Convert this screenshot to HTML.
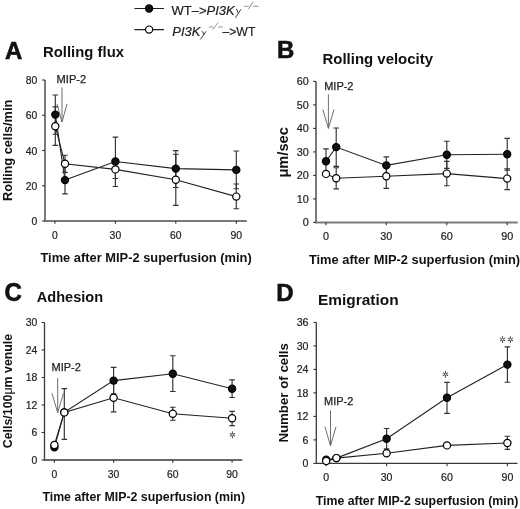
<!DOCTYPE html><html><head><meta charset="utf-8"><style>html,body{margin:0;padding:0;background:#fff;overflow:hidden;}svg{display:block;filter:grayscale(1);}text{font-family:"Liberation Sans", sans-serif;}</style></head><body>
<svg width="520" height="509" viewBox="0 0 520 509">
<rect width="520" height="509" fill="#fff"/>
<g stroke="#222" stroke-width="1.1"><path d="M134.4,8.5 H164 M134.4,29.6 H164"/></g>
<circle cx="149.1" cy="8.5" r="3.6" fill="#111" stroke="#000" stroke-width="1.2"/>
<circle cx="149.1" cy="29.6" r="3.6" fill="#fff" stroke="#000" stroke-width="1.2"/>
<text x="171.5" y="14.9" font-size="13" fill="#222" stroke="#222" stroke-width="0.2">WT–&gt;<tspan font-style="italic">PI3K</tspan></text>
<path d="M235.9,9.0 Q237.2,8.8 238.1,12.9 M241.0,9.3 L235.4,17.8" stroke="#333" stroke-width="0.95" fill="none"/>
<path d="M243.8,6.3 H248.6 M248.3,9.2 L253.3,1.6 M253.2,6.3 H258.4" stroke="#888" stroke-width="0.9" fill="none"/>
<text x="172.3" y="36.3" font-size="13" fill="#222" stroke="#222" stroke-width="0.2"><tspan font-style="italic">PI3K</tspan></text>
<path d="M201.7,31.2 Q203.0,31.0 203.9,35.0 M206.2,31.3 L200.3,39.4" stroke="#333" stroke-width="0.95" fill="none"/>
<path d="M208.8,27.0 H213.2 M212.6,29.6 L218.2,22.6 M218.2,27.0 H222.7" stroke="#888" stroke-width="0.9" fill="none"/>
<text x="222.4" y="36.3" font-size="13" fill="#222" stroke="#222" stroke-width="0.2" textLength="33" lengthAdjust="spacingAndGlyphs">–&gt;WT</text>
<text x="5.00" y="58.70" font-size="24" font-weight="bold" text-anchor="start" fill="#111" stroke="#111" stroke-width="0.6">A</text>
<text x="43.00" y="56.50" font-size="15" font-weight="bold" text-anchor="start" fill="#111" textLength="81" lengthAdjust="spacingAndGlyphs">Rolling flux</text>
<text x="277.00" y="58.20" font-size="24" font-weight="bold" text-anchor="start" fill="#111" stroke="#111" stroke-width="0.6">B</text>
<text x="322.50" y="64.00" font-size="15" font-weight="bold" text-anchor="start" fill="#111" textLength="110.5" lengthAdjust="spacingAndGlyphs">Rolling velocity</text>
<text x="4.40" y="301.00" font-size="24" font-weight="bold" text-anchor="start" fill="#111" stroke="#111" stroke-width="0.6" transform="translate(0,301) scale(1,1.05) translate(0,-301)">C</text>
<text x="36.80" y="301.90" font-size="15" font-weight="bold" text-anchor="start" fill="#111" textLength="66.3" lengthAdjust="spacingAndGlyphs">Adhesion</text>
<text x="276.20" y="301.30" font-size="24" font-weight="bold" text-anchor="start" fill="#111" stroke="#111" stroke-width="0.6">D</text>
<text x="318.00" y="304.60" font-size="15" font-weight="bold" text-anchor="start" fill="#111" textLength="80.6" lengthAdjust="spacingAndGlyphs">Emigration</text>
<text x="40.50" y="262.40" font-size="12.8" font-weight="bold" text-anchor="start" fill="#111" textLength="211.20" lengthAdjust="spacingAndGlyphs">Time after MIP-2 superfusion (min)</text>
<text x="308.90" y="264.10" font-size="12.8" font-weight="bold" text-anchor="start" fill="#111" textLength="211.20" lengthAdjust="spacingAndGlyphs">Time after MIP-2 superfusion (min)</text>
<text x="42.40" y="501.10" font-size="12.8" font-weight="bold" text-anchor="start" fill="#111" textLength="202.60" lengthAdjust="spacingAndGlyphs">Time after MIP-2 superfusion (min)</text>
<text x="315.70" y="504.80" font-size="12.8" font-weight="bold" text-anchor="start" fill="#111" textLength="202.70" lengthAdjust="spacingAndGlyphs">Time after MIP-2 superfusion (min)</text>
<text transform="translate(12.40,201.00) rotate(-90)" x="0" y="0" font-size="12.8" font-weight="bold" fill="#111" textLength="101.20" lengthAdjust="spacingAndGlyphs">Rolling cells/min</text>
<text transform="translate(288.30,177.60) rotate(-90)" x="0" y="0" font-size="14.3" font-weight="bold" fill="#111" textLength="50.40" lengthAdjust="spacingAndGlyphs">μm/sec</text>
<text transform="translate(12.40,448.20) rotate(-90)" x="0" y="0" font-size="12.8" font-weight="bold" fill="#111" textLength="114.40" lengthAdjust="spacingAndGlyphs">Cells/100<tspan font-weight="normal">μ</tspan>m venule</text>
<text transform="translate(288.30,442.60) rotate(-90)" x="0" y="0" font-size="12.8" font-weight="bold" fill="#111" textLength="99.50" lengthAdjust="spacingAndGlyphs">Number of cells</text>
<path d="M45.00,80.00 V221.00 H246.80" stroke="#7a7a7a" stroke-width="2.0" fill="none"/>
<g stroke="#333" stroke-width="1.1" fill="none">
<path d="M42.10,221.00 H45.00"/>
<path d="M42.10,185.75 H45.00"/>
<path d="M42.10,150.50 H45.00"/>
<path d="M42.10,115.25 H45.00"/>
<path d="M42.10,80.00 H45.00"/>
<path d="M54.90,221.00 V223.80"/>
<path d="M115.40,221.00 V223.80"/>
<path d="M175.80,221.00 V223.80"/>
<path d="M236.30,221.00 V223.80"/>
</g>
<text transform="translate(37.30,225.00) scale(1.0,1)" font-size="10.4" text-anchor="end" fill="#222" stroke="#222" stroke-width="0.2">0</text>
<text transform="translate(37.30,189.75) scale(1.0,1)" font-size="10.4" text-anchor="end" fill="#222" stroke="#222" stroke-width="0.2">20</text>
<text transform="translate(37.30,154.50) scale(1.0,1)" font-size="10.4" text-anchor="end" fill="#222" stroke="#222" stroke-width="0.2">40</text>
<text transform="translate(37.30,119.25) scale(1.0,1)" font-size="10.4" text-anchor="end" fill="#222" stroke="#222" stroke-width="0.2">60</text>
<text transform="translate(37.30,84.00) scale(1.0,1)" font-size="10.4" text-anchor="end" fill="#222" stroke="#222" stroke-width="0.2">80</text>
<text transform="translate(54.90,239.10) scale(1.0,1)" font-size="10.4" text-anchor="middle" fill="#222" stroke="#222" stroke-width="0.2">0</text>
<text transform="translate(115.40,239.10) scale(1.0,1)" font-size="10.4" text-anchor="middle" fill="#222" stroke="#222" stroke-width="0.2">30</text>
<text transform="translate(175.80,239.10) scale(1.0,1)" font-size="10.4" text-anchor="middle" fill="#222" stroke="#222" stroke-width="0.2">60</text>
<text transform="translate(236.30,239.10) scale(1.0,1)" font-size="10.4" text-anchor="middle" fill="#222" stroke="#222" stroke-width="0.2">90</text>
<g stroke="#6e6e6e" stroke-width="1" fill="none"><path d="M62.00,87.50 V122.00 M57.00,103.80 L62.00,122.00 L67.00,103.80"/></g>
<text x="56.60" y="82.50" font-size="11" font-weight="normal" text-anchor="start" fill="#222" textLength="29.60" lengthAdjust="spacingAndGlyphs" stroke="#222" stroke-width="0.25">MIP-2</text>
<polyline points="55.30,114.60 65.00,180.10 115.40,161.50 175.80,168.60 236.30,169.90" fill="none" stroke="#222" stroke-width="1.1"/>
<polyline points="55.30,126.20 65.00,163.80 115.40,169.40 175.80,179.80 236.30,196.60" fill="none" stroke="#222" stroke-width="1.1"/>
<g stroke="#333" stroke-width="1.15" fill="none">
<path d="M55.30,95.00 V114.60 M52.50,95.00 H58.10 M55.30,134.20 V114.60 M52.50,134.20 H58.10 "/>
<path d="M65.00,166.40 V180.10 M62.20,166.40 H67.80 M65.00,193.90 V180.10 M62.20,193.90 H67.80 "/>
<path d="M115.40,137.10 V161.50 M112.60,137.10 H118.20 M115.40,186.50 V161.50 M112.60,186.50 H118.20 "/>
<path d="M175.80,150.60 V168.60 M173.00,150.60 H178.60 M175.80,187.50 V168.60 M173.00,187.50 H178.60 "/>
<path d="M236.30,151.00 V169.90 M233.50,151.00 H239.10 M236.30,188.70 V169.90 M233.50,188.70 H239.10 "/>
</g>
<g stroke="#333" stroke-width="1.15" fill="none">
<path d="M55.30,106.80 V126.20 M52.50,106.80 H58.10 M55.30,145.40 V126.20 M52.50,145.40 H58.10 "/>
<path d="M65.00,155.20 V163.80 M62.20,155.20 H67.80 M65.00,172.40 V163.80 M62.20,172.40 H67.80 "/>
<path d="M115.40,160.50 V169.40 M112.60,160.50 H118.20 M115.40,178.50 V169.40 M112.60,178.50 H118.20 "/>
<path d="M175.80,154.20 V179.80 M173.00,154.20 H178.60 M175.80,205.40 V179.80 M173.00,205.40 H178.60 "/>
<path d="M236.30,184.00 V196.60 M233.50,184.00 H239.10 M236.30,208.70 V196.60 M233.50,208.70 H239.10 "/>
</g>
<circle cx="55.30" cy="114.60" r="3.6" fill="#111" stroke="#000" stroke-width="1.2"/>
<circle cx="65.00" cy="180.10" r="3.6" fill="#111" stroke="#000" stroke-width="1.2"/>
<circle cx="115.40" cy="161.50" r="3.6" fill="#111" stroke="#000" stroke-width="1.2"/>
<circle cx="175.80" cy="168.60" r="3.6" fill="#111" stroke="#000" stroke-width="1.2"/>
<circle cx="236.30" cy="169.90" r="3.6" fill="#111" stroke="#000" stroke-width="1.2"/>
<circle cx="55.30" cy="126.20" r="3.6" fill="#fff" stroke="#000" stroke-width="1.2"/>
<circle cx="65.00" cy="163.80" r="3.6" fill="#fff" stroke="#000" stroke-width="1.2"/>
<circle cx="115.40" cy="169.40" r="3.6" fill="#fff" stroke="#000" stroke-width="1.2"/>
<circle cx="175.80" cy="179.80" r="3.6" fill="#fff" stroke="#000" stroke-width="1.2"/>
<circle cx="236.30" cy="196.60" r="3.6" fill="#fff" stroke="#000" stroke-width="1.2"/>
<path d="M316.00,81.40 V222.40 H517.70" stroke="#7a7a7a" stroke-width="2.0" fill="none"/>
<g stroke="#333" stroke-width="1.1" fill="none">
<path d="M313.10,222.40 H316.00"/>
<path d="M313.10,198.90 H316.00"/>
<path d="M313.10,175.40 H316.00"/>
<path d="M313.10,151.90 H316.00"/>
<path d="M313.10,128.40 H316.00"/>
<path d="M313.10,104.90 H316.00"/>
<path d="M313.10,81.40 H316.00"/>
<path d="M325.90,222.40 V225.20"/>
<path d="M386.30,222.40 V225.20"/>
<path d="M446.80,222.40 V225.20"/>
<path d="M507.20,222.40 V225.20"/>
</g>
<text transform="translate(308.70,226.40) scale(1.04,1)" font-size="10.4" text-anchor="end" fill="#222" stroke="#222" stroke-width="0.2">0</text>
<text transform="translate(308.70,202.90) scale(1.04,1)" font-size="10.4" text-anchor="end" fill="#222" stroke="#222" stroke-width="0.2">10</text>
<text transform="translate(308.70,179.40) scale(1.04,1)" font-size="10.4" text-anchor="end" fill="#222" stroke="#222" stroke-width="0.2">20</text>
<text transform="translate(308.70,155.90) scale(1.04,1)" font-size="10.4" text-anchor="end" fill="#222" stroke="#222" stroke-width="0.2">30</text>
<text transform="translate(308.70,132.40) scale(1.04,1)" font-size="10.4" text-anchor="end" fill="#222" stroke="#222" stroke-width="0.2">40</text>
<text transform="translate(308.70,108.90) scale(1.04,1)" font-size="10.4" text-anchor="end" fill="#222" stroke="#222" stroke-width="0.2">50</text>
<text transform="translate(308.70,85.40) scale(1.04,1)" font-size="10.4" text-anchor="end" fill="#222" stroke="#222" stroke-width="0.2">60</text>
<text transform="translate(325.90,239.70) scale(1.04,1)" font-size="10.4" text-anchor="middle" fill="#222" stroke="#222" stroke-width="0.2">0</text>
<text transform="translate(386.30,239.70) scale(1.04,1)" font-size="10.4" text-anchor="middle" fill="#222" stroke="#222" stroke-width="0.2">30</text>
<text transform="translate(446.80,239.70) scale(1.04,1)" font-size="10.4" text-anchor="middle" fill="#222" stroke="#222" stroke-width="0.2">60</text>
<text transform="translate(507.20,239.70) scale(1.04,1)" font-size="10.4" text-anchor="middle" fill="#222" stroke="#222" stroke-width="0.2">90</text>
<g stroke="#6e6e6e" stroke-width="1" fill="none"><path d="M328.40,94.20 V128.40 M322.80,109.50 L328.40,128.40 L334.00,109.50"/></g>
<text x="324.20" y="90.30" font-size="11" font-weight="normal" text-anchor="start" fill="#222" textLength="29.30" lengthAdjust="spacingAndGlyphs" stroke="#222" stroke-width="0.25">MIP-2</text>
<polyline points="326.00,161.30 336.20,147.10 386.30,165.40 446.80,154.80 507.20,154.20" fill="none" stroke="#222" stroke-width="1.1"/>
<polyline points="326.00,173.90 336.20,178.30 386.30,176.30 446.80,173.60 507.20,178.60" fill="none" stroke="#222" stroke-width="1.1"/>
<g stroke="#333" stroke-width="1.15" fill="none">
<path d="M326.00,148.90 V161.30 M323.20,148.90 H328.80 M326.00,173.70 V161.30 M323.20,173.70 H328.80 "/>
<path d="M336.20,128.00 V147.10 M333.40,128.00 H339.00 M336.20,166.40 V147.10 M333.40,166.40 H339.00 "/>
<path d="M386.30,156.90 V165.40 M383.50,156.90 H389.10 M386.30,173.90 V165.40 M383.50,173.90 H389.10 "/>
<path d="M446.80,141.20 V154.80 M444.00,141.20 H449.60 M446.80,168.40 V154.80 M444.00,168.40 H449.60 "/>
<path d="M507.20,138.30 V154.20 M504.40,138.30 H510.00 M507.20,170.10 V154.20 M504.40,170.10 H510.00 "/>
</g>
<g stroke="#333" stroke-width="1.15" fill="none">
<path d="M336.20,167.70 V178.30 M333.40,167.70 H339.00 M336.20,188.90 V178.30 M333.40,188.90 H339.00 "/>
<path d="M386.30,164.20 V176.30 M383.50,164.20 H389.10 M386.30,188.40 V176.30 M383.50,188.40 H389.10 "/>
<path d="M446.80,161.40 V173.60 M444.00,161.40 H449.60 M446.80,185.70 V173.60 M444.00,185.70 H449.60 "/>
<path d="M507.20,168.70 V178.60 M504.40,168.70 H510.00 M507.20,189.60 V178.60 M504.40,189.60 H510.00 "/>
</g>
<circle cx="326.00" cy="161.30" r="3.6" fill="#111" stroke="#000" stroke-width="1.2"/>
<circle cx="336.20" cy="147.10" r="3.6" fill="#111" stroke="#000" stroke-width="1.2"/>
<circle cx="386.30" cy="165.40" r="3.6" fill="#111" stroke="#000" stroke-width="1.2"/>
<circle cx="446.80" cy="154.80" r="3.6" fill="#111" stroke="#000" stroke-width="1.2"/>
<circle cx="507.20" cy="154.20" r="3.6" fill="#111" stroke="#000" stroke-width="1.2"/>
<circle cx="326.00" cy="173.90" r="3.6" fill="#fff" stroke="#000" stroke-width="1.2"/>
<circle cx="336.20" cy="178.30" r="3.6" fill="#fff" stroke="#000" stroke-width="1.2"/>
<circle cx="386.30" cy="176.30" r="3.6" fill="#fff" stroke="#000" stroke-width="1.2"/>
<circle cx="446.80" cy="173.60" r="3.6" fill="#fff" stroke="#000" stroke-width="1.2"/>
<circle cx="507.20" cy="178.60" r="3.6" fill="#fff" stroke="#000" stroke-width="1.2"/>
<path d="M44.50,322.50 V460.00 H242.20" stroke="#3a3a3a" stroke-width="1.3" fill="none"/>
<g stroke="#333" stroke-width="1.1" fill="none">
<path d="M41.60,460.00 H44.50"/>
<path d="M41.60,432.50 H44.50"/>
<path d="M41.60,405.00 H44.50"/>
<path d="M41.60,377.50 H44.50"/>
<path d="M41.60,350.00 H44.50"/>
<path d="M41.60,322.50 H44.50"/>
<path d="M54.40,460.00 V462.80"/>
<path d="M113.60,460.00 V462.80"/>
<path d="M172.80,460.00 V462.80"/>
<path d="M232.10,460.00 V462.80"/>
</g>
<text transform="translate(37.20,463.60) scale(1.0,1)" font-size="10.4" text-anchor="end" fill="#222" stroke="#222" stroke-width="0.2">0</text>
<text transform="translate(37.20,436.10) scale(1.0,1)" font-size="10.4" text-anchor="end" fill="#222" stroke="#222" stroke-width="0.2">6</text>
<text transform="translate(37.20,408.60) scale(1.0,1)" font-size="10.4" text-anchor="end" fill="#222" stroke="#222" stroke-width="0.2">12</text>
<text transform="translate(37.20,381.10) scale(1.0,1)" font-size="10.4" text-anchor="end" fill="#222" stroke="#222" stroke-width="0.2">18</text>
<text transform="translate(37.20,353.60) scale(1.0,1)" font-size="10.4" text-anchor="end" fill="#222" stroke="#222" stroke-width="0.2">24</text>
<text transform="translate(37.20,326.10) scale(1.0,1)" font-size="10.4" text-anchor="end" fill="#222" stroke="#222" stroke-width="0.2">30</text>
<text transform="translate(54.40,477.50) scale(1.0,1)" font-size="10.4" text-anchor="middle" fill="#222" stroke="#222" stroke-width="0.2">0</text>
<text transform="translate(113.60,477.50) scale(1.0,1)" font-size="10.4" text-anchor="middle" fill="#222" stroke="#222" stroke-width="0.2">30</text>
<text transform="translate(172.80,477.50) scale(1.0,1)" font-size="10.4" text-anchor="middle" fill="#222" stroke="#222" stroke-width="0.2">60</text>
<text transform="translate(232.10,477.50) scale(1.0,1)" font-size="10.4" text-anchor="middle" fill="#222" stroke="#222" stroke-width="0.2">90</text>
<g stroke="#6e6e6e" stroke-width="1" fill="none"><path d="M57.70,378.00 V412.60 M51.90,393.30 L57.70,412.60 L63.50,393.30"/></g>
<text x="51.60" y="370.50" font-size="11" font-weight="normal" text-anchor="start" fill="#222" textLength="29.30" lengthAdjust="spacingAndGlyphs" stroke="#222" stroke-width="0.25">MIP-2</text>
<polyline points="54.40,447.30 64.30,412.40 113.60,380.60 172.80,373.70 232.10,388.70" fill="none" stroke="#222" stroke-width="1.1"/>
<polyline points="54.40,445.00 64.30,412.40 113.60,397.70 172.80,413.70 232.10,418.30" fill="none" stroke="#222" stroke-width="1.1"/>
<g stroke="#333" stroke-width="1.15" fill="none">
<path d="M64.30,388.60 V412.40 M61.50,388.60 H67.10 M64.30,439.30 V412.40 M61.50,439.30 H67.10 "/>
<path d="M113.60,367.30 V380.60 M110.80,367.30 H116.40 M113.60,393.90 V380.60 M110.80,393.90 H116.40 "/>
<path d="M172.80,355.70 V373.70 M170.00,355.70 H175.60 M172.80,391.50 V373.70 M170.00,391.50 H175.60 "/>
<path d="M232.10,379.80 V388.70 M229.30,379.80 H234.90 M232.10,397.50 V388.70 M229.30,397.50 H234.90 "/>
</g>
<g stroke="#333" stroke-width="1.15" fill="none">
<path d="M113.60,383.50 V397.70 M110.80,383.50 H116.40 M113.60,411.90 V397.70 M110.80,411.90 H116.40 "/>
<path d="M172.80,407.20 V413.70 M170.00,407.20 H175.60 M172.80,420.20 V413.70 M170.00,420.20 H175.60 "/>
<path d="M232.10,411.40 V418.30 M229.30,411.40 H234.90 M232.10,425.60 V418.30 M229.30,425.60 H234.90 "/>
</g>
<circle cx="54.40" cy="447.30" r="3.6" fill="#111" stroke="#000" stroke-width="1.2"/>
<circle cx="64.30" cy="412.40" r="3.6" fill="#111" stroke="#000" stroke-width="1.2"/>
<circle cx="113.60" cy="380.60" r="3.6" fill="#111" stroke="#000" stroke-width="1.2"/>
<circle cx="172.80" cy="373.70" r="3.6" fill="#111" stroke="#000" stroke-width="1.2"/>
<circle cx="232.10" cy="388.70" r="3.6" fill="#111" stroke="#000" stroke-width="1.2"/>
<circle cx="54.40" cy="445.00" r="3.6" fill="#fff" stroke="#000" stroke-width="1.2"/>
<circle cx="64.30" cy="412.40" r="3.6" fill="#fff" stroke="#000" stroke-width="1.2"/>
<circle cx="113.60" cy="397.70" r="3.6" fill="#fff" stroke="#000" stroke-width="1.2"/>
<circle cx="172.80" cy="413.70" r="3.6" fill="#fff" stroke="#000" stroke-width="1.2"/>
<circle cx="232.10" cy="418.30" r="3.6" fill="#fff" stroke="#000" stroke-width="1.2"/>
<path d="M232.40,433.70 L232.40,431.80 M233.35,434.25 L234.61,433.53 M231.45,434.25 L230.19,433.53 M231.45,435.35 L230.19,436.07 M233.35,435.35 L234.61,436.07 M232.40,435.90 L232.40,437.80 " stroke="#505050" stroke-width="1.05" fill="none" stroke-linecap="round"/>
<path d="M316.30,322.40 V463.40 H517.50" stroke="#3a3a3a" stroke-width="1.3" fill="none"/>
<g stroke="#333" stroke-width="1.1" fill="none">
<path d="M313.40,463.40 H316.30"/>
<path d="M313.40,439.90 H316.30"/>
<path d="M313.40,416.40 H316.30"/>
<path d="M313.40,392.90 H316.30"/>
<path d="M313.40,369.40 H316.30"/>
<path d="M313.40,345.90 H316.30"/>
<path d="M313.40,322.40 H316.30"/>
<path d="M326.30,463.40 V466.20"/>
<path d="M386.60,463.40 V466.20"/>
<path d="M447.00,463.40 V466.20"/>
<path d="M507.40,463.40 V466.20"/>
</g>
<text transform="translate(308.50,467.40) scale(1.02,1)" font-size="10.4" text-anchor="end" fill="#222" stroke="#222" stroke-width="0.2">0</text>
<text transform="translate(308.50,443.90) scale(1.02,1)" font-size="10.4" text-anchor="end" fill="#222" stroke="#222" stroke-width="0.2">6</text>
<text transform="translate(308.50,420.40) scale(1.02,1)" font-size="10.4" text-anchor="end" fill="#222" stroke="#222" stroke-width="0.2">12</text>
<text transform="translate(308.50,396.90) scale(1.02,1)" font-size="10.4" text-anchor="end" fill="#222" stroke="#222" stroke-width="0.2">18</text>
<text transform="translate(308.50,373.40) scale(1.02,1)" font-size="10.4" text-anchor="end" fill="#222" stroke="#222" stroke-width="0.2">24</text>
<text transform="translate(308.50,349.90) scale(1.02,1)" font-size="10.4" text-anchor="end" fill="#222" stroke="#222" stroke-width="0.2">30</text>
<text transform="translate(308.50,326.40) scale(1.02,1)" font-size="10.4" text-anchor="end" fill="#222" stroke="#222" stroke-width="0.2">36</text>
<text transform="translate(326.30,480.70) scale(1.02,1)" font-size="10.4" text-anchor="middle" fill="#222" stroke="#222" stroke-width="0.2">0</text>
<text transform="translate(386.60,480.70) scale(1.02,1)" font-size="10.4" text-anchor="middle" fill="#222" stroke="#222" stroke-width="0.2">30</text>
<text transform="translate(447.00,480.70) scale(1.02,1)" font-size="10.4" text-anchor="middle" fill="#222" stroke="#222" stroke-width="0.2">60</text>
<text transform="translate(507.40,480.70) scale(1.02,1)" font-size="10.4" text-anchor="middle" fill="#222" stroke="#222" stroke-width="0.2">90</text>
<g stroke="#6e6e6e" stroke-width="1" fill="none"><path d="M330.50,410.50 V445.90 M325.00,426.80 L330.50,445.90 L336.00,426.80"/></g>
<text x="324.10" y="404.90" font-size="11" font-weight="normal" text-anchor="start" fill="#222" textLength="29.30" lengthAdjust="spacingAndGlyphs" stroke="#222" stroke-width="0.25">MIP-2</text>
<polyline points="326.20,459.80 336.40,458.10 386.60,438.70 447.00,397.70 507.40,364.60" fill="none" stroke="#222" stroke-width="1.1"/>
<polyline points="326.20,461.10 336.40,458.10 386.60,453.30 447.00,445.40 507.40,443.00" fill="none" stroke="#222" stroke-width="1.1"/>
<g stroke="#333" stroke-width="1.15" fill="none">
<path d="M386.60,428.50 V438.70 M383.80,428.50 H389.40 M386.60,448.90 V438.70 M383.80,448.90 H389.40 "/>
<path d="M447.00,382.30 V397.70 M444.20,382.30 H449.80 M447.00,413.30 V397.70 M444.20,413.30 H449.80 "/>
<path d="M507.40,346.90 V364.60 M504.60,346.90 H510.20 M507.40,382.20 V364.60 M504.60,382.20 H510.20 "/>
</g>
<g stroke="#333" stroke-width="1.15" fill="none">
<path d="M507.40,436.20 V443.00 M504.60,436.20 H510.20 M507.40,449.40 V443.00 M504.60,449.40 H510.20 "/>
</g>
<circle cx="326.20" cy="459.80" r="3.6" fill="#111" stroke="#000" stroke-width="1.2"/>
<circle cx="336.40" cy="458.10" r="3.6" fill="#111" stroke="#000" stroke-width="1.2"/>
<circle cx="386.60" cy="438.70" r="3.6" fill="#111" stroke="#000" stroke-width="1.2"/>
<circle cx="447.00" cy="397.70" r="3.6" fill="#111" stroke="#000" stroke-width="1.2"/>
<circle cx="507.40" cy="364.60" r="3.6" fill="#111" stroke="#000" stroke-width="1.2"/>
<circle cx="326.20" cy="461.10" r="3.6" fill="#fff" stroke="#000" stroke-width="1.2"/>
<circle cx="336.40" cy="458.10" r="3.6" fill="#fff" stroke="#000" stroke-width="1.2"/>
<circle cx="386.60" cy="453.30" r="3.6" fill="#fff" stroke="#000" stroke-width="1.2"/>
<circle cx="447.00" cy="445.40" r="3.6" fill="#fff" stroke="#000" stroke-width="1.2"/>
<circle cx="507.40" cy="443.00" r="3.6" fill="#fff" stroke="#000" stroke-width="1.2"/>
<path d="M445.50,373.10 L445.50,371.20 M446.45,373.65 L447.71,372.93 M444.55,373.65 L443.29,372.93 M444.55,374.75 L443.29,375.47 M446.45,374.75 L447.71,375.47 M445.50,375.30 L445.50,377.20 " stroke="#505050" stroke-width="1.05" fill="none" stroke-linecap="round"/>
<path d="M502.60,338.30 L502.60,336.40 M503.55,338.85 L504.81,338.12 M501.65,338.85 L500.39,338.12 M501.65,339.95 L500.39,340.67 M503.55,339.95 L504.81,340.67 M502.60,340.50 L502.60,342.40 " stroke="#505050" stroke-width="1.05" fill="none" stroke-linecap="round"/>
<path d="M510.40,338.30 L510.40,336.40 M511.35,338.85 L512.61,338.12 M509.45,338.85 L508.19,338.12 M509.45,339.95 L508.19,340.67 M511.35,339.95 L512.61,340.67 M510.40,340.50 L510.40,342.40 " stroke="#505050" stroke-width="1.05" fill="none" stroke-linecap="round"/>
</svg></body></html>
